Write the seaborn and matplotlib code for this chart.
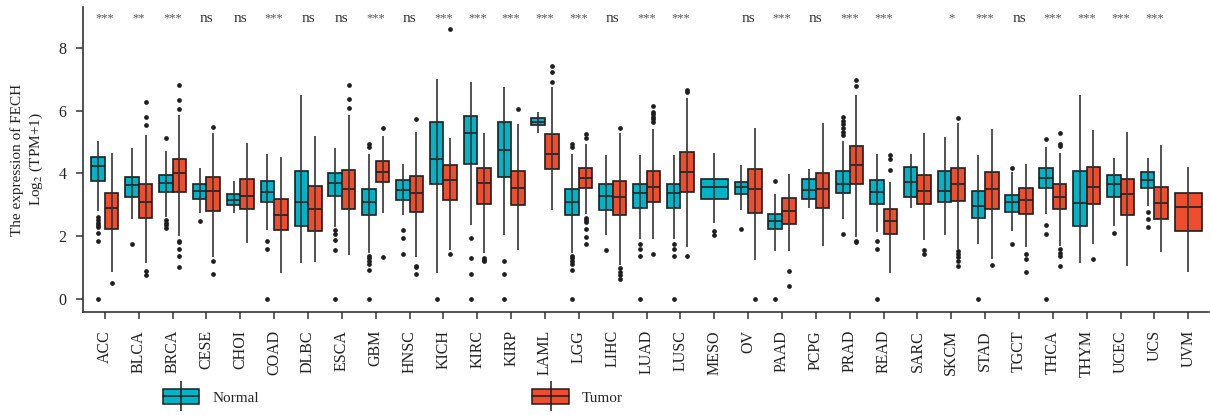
import numpy as np
import pandas as pd
import seaborn as sns
import matplotlib
matplotlib.use('Agg')
import matplotlib.pyplot as plt
from matplotlib.patches import Patch
from matplotlib.lines import Line2D
from matplotlib.legend_handler import HandlerTuple

cancers = ["ACC", "BLCA", "BRCA", "CESE", "CHOI", "COAD", "DLBC", "ESCA", "GBM", "HNSC",
           "KICH", "KIRC", "KIRP", "LAML", "LGG", "LIHC", "LUAD", "LUSC", "MESO", "OV",
           "PAAD", "PCPG", "PRAD", "READ", "SARC", "SKCM", "STAD", "TGCT", "THCA", "THYM",
           "UCEC", "UCS", "UVM"]
signif = ["***", "**", "***", "ns", "ns", "***", "ns", "ns", "***", "ns",
          "***", "***", "***", "***", "***", "ns", "***", "***", "", "ns",
          "***", "ns", "***", "***", "", "*", "***", "ns", "***", "***",
          "***", "***", ""]

# box summaries (None = no box)
normal_lo = [2.8, 2.54, 2.61, 2.72, 2.72, 2.19, 1.13, 2.3, 1.45, 2.67,
             0.83, 2.34, 2.03, 5.30, 1.45, 2.03, 1.92, 1.92, 2.42, 2.83,
             1.53, 2.91, 2.54, 2.14, 2.88, 2.03, 1.76, 2.16, 2.69, 1.13,
             2.33, 2.95, None]
normal_q1 = [3.77, 3.23, 3.40, 3.19, 2.98, 3.07, 2.33, 3.28, 2.66, 3.16,
             3.67, 4.29, 3.87, 5.54, 2.66, 2.83, 2.91, 2.91, 3.17, 3.33,
             2.23, 3.17, 3.36, 3.03, 3.26, 3.07, 2.56, 2.76, 3.54, 2.33,
             3.24, 3.54, None]
normal_med = [4.24, 3.62, 3.69, 3.44, 3.15, 3.41, 3.07, 3.68, 3.08, 3.47,
              4.47, 5.30, 4.75, 5.64, 3.08, 3.27, 3.38, 3.38, 3.55, 3.55,
              2.49, 3.46, 3.67, 3.39, 3.73, 3.45, 2.95, 3.08, 3.86, 3.05,
              3.65, 3.79, None]
normal_q3 = [4.51, 3.87, 3.96, 3.65, 3.33, 3.76, 4.08, 4.00, 3.50, 3.79,
             5.62, 5.83, 5.62, 5.76, 3.50, 3.67, 3.67, 3.67, 3.83, 3.73,
             2.71, 3.83, 4.07, 3.78, 4.21, 4.06, 3.45, 3.31, 4.16, 4.07,
             3.96, 4.04, None]
normal_hi = [5.03, 4.8, 4.71, 4.18, 3.77, 4.61, 6.49, 4.82, 4.61, 4.31,
             6.99, 6.92, 6.76, 5.94, 4.61, 4.58, 4.58, 4.58, 4.65, 4.26,
             3.33, 4.13, 5.03, 4.61, 4.61, 5.16, 4.58, 4.03, 4.85, 6.49,
             4.50, 4.50, None]
normal_out = [[2.6, 2.5, 2.42, 2.35, 2.28, 2.1, 1.85, 0.0], [1.76],
              [5.13, 2.5, 2.42, 2.35, 2.27], [2.48], [], [1.85, 1.6, 0.0], [],
              [2.18, 2.08, 1.89, 1.55, 0.0],
              [4.85, 4.95, 1.38, 1.3, 1.2, 1.12, 0.91, 0.0], [2.2, 1.93, 1.43],
              [0.0], [1.95, 1.3, 0.79, 0.0], [1.22, 0.79, 0.0], [],
              [4.85, 4.95, 1.38, 1.3, 1.2, 1.12, 0.91, 0.0], [1.55],
              [1.75, 1.6, 1.36, 0.0], [1.75, 1.6, 1.36, 0.0], [2.15, 2.04], [2.21],
              [3.75, 0.0], [], [5.22, 5.32, 5.43, 5.57, 5.67, 5.80, 2.05],
              [1.85, 1.6, 0.0], [], [], [0.0], [4.17, 1.76], [5.1, 2.36, 2.06, 0.0],
              [], [2.11], [2.76, 2.55, 2.30], None]

tumor_lo = [0.86, 1.13, 2.0, 1.34, 1.79, 0.83, 1.18, 1.39, 2.75, 1.32,
            1.57, 1.45, 1.55, 2.83, 2.69, 1.07, 1.92, 1.66, None, 1.23,
            1.53, 1.69, 1.98, 0.83, 1.89, 1.6, 1.26, 1.64, 1.68, 1.76,
            1.04, 1.50, 0.87]
tumor_q1 = [2.24, 2.56, 3.41, 2.81, 2.86, 2.20, 2.17, 2.87, 3.72, 2.78,
            3.16, 3.03, 2.99, 4.14, 3.54, 2.66, 3.07, 3.41, None, 2.75,
            2.40, 2.91, 3.67, 2.05, 3.03, 3.12, 2.86, 2.71, 2.86, 3.03,
            2.66, 2.53, 2.16]
tumor_med = [2.88, 3.08, 4.01, 3.45, 3.28, 2.68, 2.85, 3.49, 4.03, 3.36,
             3.78, 3.70, 3.54, 4.62, 3.86, 3.24, 3.57, 4.03, None, 3.50,
             2.81, 3.50, 4.26, 2.49, 3.44, 3.67, 3.50, 3.16, 3.26, 3.57,
             3.34, 3.06, 2.93]
tumor_q3 = [3.38, 3.67, 4.45, 3.87, 3.82, 3.17, 3.59, 4.10, 4.40, 3.91,
            4.25, 4.16, 4.07, 5.24, 4.16, 3.74, 4.08, 4.67, None, 4.14,
            3.20, 4.00, 4.88, 2.87, 3.96, 4.16, 4.03, 3.54, 3.66, 4.20,
            3.83, 3.57, 3.38]
tumor_hi = [4.65, 5.22, 5.86, 5.3, 4.98, 4.53, 5.2, 5.86, 5.2, 5.32,
            5.11, 5.27, 5.57, 6.74, 4.95, 5.27, 5.41, 6.39, None, 5.45,
            3.99, 5.59, 6.51, 3.73, 5.29, 5.61, 5.40, 4.31, 4.65, 5.38,
            5.32, 4.90, 4.20]
tumor_out = [[0.5], [5.54, 5.78, 6.26, 0.88, 0.75],
             [6.05, 6.35, 6.83, 1.84, 1.8, 1.6, 1.36, 1.0], [5.48, 1.2, 0.79], [], [], [],
             [6.09, 6.37, 6.83], [5.45, 1.34], [5.73, 1.05, 1.0, 0.79],
             [8.61, 1.43], [1.3, 1.25, 1.2], [6.06], [6.92, 7.22, 7.42],
             [5.12, 5.24, 2.58, 2.5, 2.45, 2.22, 1.98, 1.76],
             [5.45, 0.97, 0.85, 0.75, 0.62],
             [5.65, 5.72, 5.8, 5.88, 5.95, 6.14, 1.42], [6.6, 6.67, 1.36], None, [0.0],
             [0.88, 0.41], [], [6.78, 6.96, 1.84, 1.8], [4.12, 4.47, 4.58],
             [1.55, 1.42], [5.75, 1.52, 1.42, 1.32, 1.22, 1.04], [1.07],
             [1.42, 1.28, 0.87], [4.88, 4.95, 5.29, 1.6, 1.45, 1.36, 1.05], [1.26],
             [], [], []]

normal_color = "#00B4C8"
tumor_color = "#EE4D2E"
dark = "#1e1e1e"


def sample_points(lo, q1, med, q3, hi, outs):
    # points whose quartiles / whisker ends equal the given summary
    low = sorted(o for o in outs if o < lo)
    high = sorted(o for o in outs if o > hi)
    k = max(len(low), len(high)) + 1
    pts = low + [lo] + [q1] * (k - len(low)) + [med] * k + [q3] * k
    pts += [q3] * (k - len(high) - 1) + [hi] + high
    return pts


rows = []
for i, c in enumerate(cancers):
    if normal_q1[i] is not None:
        for v in sample_points(normal_lo[i], normal_q1[i], normal_med[i], normal_q3[i],
                               normal_hi[i], normal_out[i]):
            rows.append((c, "Normal", v))
    if tumor_q1[i] is not None:
        for v in sample_points(tumor_lo[i], tumor_q1[i], tumor_med[i], tumor_q3[i],
                               tumor_hi[i], tumor_out[i]):
            rows.append((c, "Tumor", v))
df = pd.DataFrame(rows, columns=["cancer", "group", "value"])
counts = df.groupby("cancer")["group"].nunique()
single = counts[counts == 1].index

sns.set_style("ticks")
plt.rcParams["font.family"] = ["Liberation Serif", "DejaVu Serif"]
plt.rcParams["mathtext.fontset"] = "stix"

fig = plt.figure(figsize=(12.1, 4.15), dpi=100)
ax = fig.add_axes([0.0688, 0.2482, 0.9303, 0.7349])

box_kw = dict(x="cancer", y="value", hue="group", order=cancers,
              hue_order=["Normal", "Tumor"],
              palette={"Normal": normal_color, "Tumor": tumor_color},
              saturation=1, width=0.8, linewidth=1.2, linecolor=dark, whis=1.5,
              showcaps=False, fliersize=2.4,
              flierprops=dict(marker="o", markerfacecolor=dark, markeredgecolor=dark),
              whiskerprops=dict(color="#333333"),
              legend=False, ax=ax)
sns.boxplot(data=df[~df["cancer"].isin(single)], dodge=True, **box_kw)
sns.boxplot(data=df[df["cancer"].isin(single)], dodge=False, **box_kw)

# whisker line runs through the box, as in the original
groups = {}
for ln in ax.lines:
    xs = np.asarray(ln.get_xdata(), float)
    if len(xs) == 2 and xs[0] == xs[1] and ln.get_linestyle() not in ("None", "none", ""):
        groups.setdefault(round(xs[0], 6), []).append(ln)
for lines in groups.values():
    if len(lines) != 2:
        continue
    lo_w, hi_w = sorted(lines, key=lambda l: min(l.get_ydata()))
    lo_w.set_ydata([hi_w.get_ydata()[0], lo_w.get_ydata()[1]])
    for l in lines:
        l.set_zorder(5)

for i, s in enumerate(signif):
    if s == "ns":
        ax.text(i, 8.83, s, ha="center", va="baseline", fontsize=11, color="#333333")
    elif s:
        ax.text(i, 8.83, s, ha="center", va="baseline", fontsize=9, color="#555555")

ax.set_xlim(-0.64, 32.61)
ax.set_ylim(-0.42, 9.3)
ax.set_yticks([0, 2, 4, 6, 8])
ax.set_xlabel("")
ax.set_ylabel("The expression of FECH\nLog$_2$ (TPM+1)", fontsize=11,
              linespacing=1.3, labelpad=10, color="#222222")
ax.tick_params(axis="x", labelrotation=90, labelsize=11.5, length=5, width=1.1,
               pad=8, colors="#333333", labelcolor="#222222")
ax.tick_params(axis="y", labelsize=11.5, length=5, width=1.1, pad=7,
               colors="#333333", labelcolor="#222222")
for sp in ["left", "bottom"]:
    ax.spines[sp].set_linewidth(1.2)
    ax.spines[sp].set_color("#333333")
sns.despine(ax=ax)

handles = []
for col in [normal_color, tumor_color]:
    handles.append((Patch(facecolor=col, edgecolor=dark, linewidth=1.1),
                    Line2D([0], [0], color=dark, lw=1.1),
                    Line2D([0], [0], marker="|", markersize=21, markeredgewidth=1.1,
                           color=dark, linestyle="none")))
fig.legend(handles, ["Normal", "Tumor"], handler_map={tuple: HandlerTuple(ndivide=1)},
           loc="center left", bbox_to_anchor=(162.7 / 1210, 1 - 397 / 415), ncol=2,
           frameon=False, borderpad=0, borderaxespad=0, numpoints=1,
           handlelength=2.4, handleheight=1.1, handletextpad=0.85, columnspacing=17.9,
           fontsize=11)

fig.savefig("out.png", dpi=100)
